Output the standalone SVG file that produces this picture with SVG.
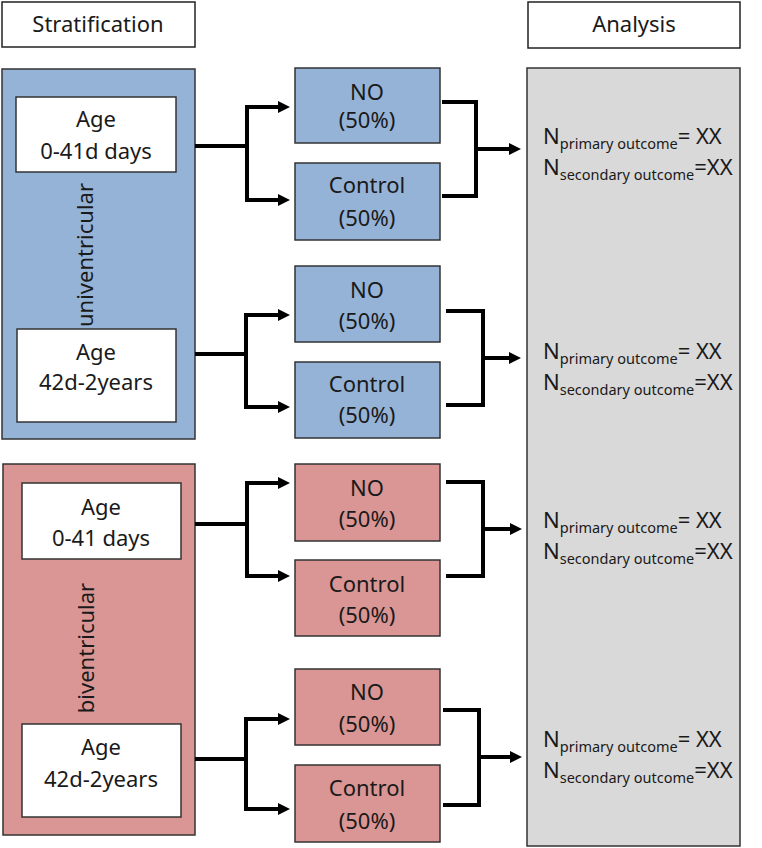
<svg xmlns="http://www.w3.org/2000/svg" width="762" height="848" viewBox="0 0 762 848">
<defs>
<style>
text{font-family:"Noto Sans","Open Sans","DejaVu Sans",sans-serif;font-size:22px;fill:#1a1a1a}
.c{text-anchor:middle}
.hdr{fill:#fff;stroke:#222;stroke-width:1.5}
.blue{fill:#95B3D7;stroke:#333;stroke-width:1.5}
.red{fill:#D99694;stroke:#333;stroke-width:1.5}
.gray{fill:#D9D9D9;stroke:#333;stroke-width:1.5}
.wb{fill:#fff;stroke:#333;stroke-width:1.5}
.sub{font-size:14.5px}
#connectors path{fill:none;stroke:#000;stroke-width:4;stroke-linejoin:miter}
</style>
<marker id="ah" viewBox="0 0 12 12" refX="4" refY="6" markerWidth="12" markerHeight="12" markerUnits="userSpaceOnUse" orient="auto-start-reverse">
<path d="M0,0 L12,6 L0,12 z" fill="#000"/>
</marker>
</defs>
<rect width="762" height="848" fill="#fff"/>

<g id="header-stratification"><rect class="hdr" x="2" y="2" width="193" height="45"/><text class="c" x="98" y="32">Stratification</text></g>
<g id="header-analysis"><rect class="hdr" x="528" y="2" width="212" height="46"/><text class="c" x="634" y="32">Analysis</text></g>

<g id="analysis"><rect class="gray" x="527" y="68" width="213" height="778"/>
<text x="543" y="144">N<tspan class="sub" dy="5">primary outcome</tspan><tspan dy="-5">= XX</tspan></text>
<text x="543" y="175">N<tspan class="sub" dy="5">secondary outcome</tspan><tspan dy="-5">=XX</tspan></text>
<text x="543" y="359">N<tspan class="sub" dy="5">primary outcome</tspan><tspan dy="-5">= XX</tspan></text>
<text x="543" y="390">N<tspan class="sub" dy="5">secondary outcome</tspan><tspan dy="-5">=XX</tspan></text>
<text x="543" y="528">N<tspan class="sub" dy="5">primary outcome</tspan><tspan dy="-5">= XX</tspan></text>
<text x="543" y="559">N<tspan class="sub" dy="5">secondary outcome</tspan><tspan dy="-5">=XX</tspan></text>
<text x="543" y="747">N<tspan class="sub" dy="5">primary outcome</tspan><tspan dy="-5">= XX</tspan></text>
<text x="543" y="778">N<tspan class="sub" dy="5">secondary outcome</tspan><tspan dy="-5">=XX</tspan></text>
</g>

<g id="univentricular"><rect class="blue" x="2" y="69" width="193" height="370"/>
<text class="c" transform="translate(93,255) rotate(-90)">univentricular</text></g>
<g id="biventricular"><rect class="red" x="3" y="464" width="192" height="371"/>
<text class="c" transform="translate(94,648) rotate(-90)">biventricular</text></g>

<g id="age-uni-1"><rect class="wb" x="16" y="97" width="160" height="75"/><text class="c" x="96" y="127">Age</text><text class="c" x="96" y="159">0-41d days</text></g>
<g id="age-uni-2"><rect class="wb" x="17" y="329" width="159" height="93"/><text class="c" x="96" y="360">Age</text><text class="c" x="96" y="390">42d-2years</text></g>
<g id="age-bi-1"><rect class="wb" x="22" y="483" width="159" height="76"/><text class="c" x="101" y="515">Age</text><text class="c" x="101" y="546">0-41 days</text></g>
<g id="age-bi-2"><rect class="wb" x="22" y="724" width="159" height="93"/><text class="c" x="101" y="755">Age</text><text class="c" x="101" y="787">42d-2years</text></g>

<g id="no-1"><rect class="blue" x="295" y="68" width="145" height="75"/><text class="c" x="367" y="100">NO</text><text class="c" x="367" y="128">(50%)</text></g>
<g id="control-1"><rect class="blue" x="295" y="163" width="145" height="77"/><text class="c" x="367" y="193">Control</text><text class="c" x="367" y="226">(50%)</text></g>
<g id="no-2"><rect class="blue" x="295" y="266" width="145" height="76"/><text class="c" x="367" y="298">NO</text><text class="c" x="367" y="329">(50%)</text></g>
<g id="control-2"><rect class="blue" x="295" y="362" width="145" height="76"/><text class="c" x="367" y="392">Control</text><text class="c" x="367" y="423">(50%)</text></g>
<g id="no-3"><rect class="red" x="295" y="464" width="145" height="77"/><text class="c" x="367" y="496">NO</text><text class="c" x="367" y="527">(50%)</text></g>
<g id="control-3"><rect class="red" x="295" y="560" width="145" height="76"/><text class="c" x="367" y="592">Control</text><text class="c" x="367" y="623">(50%)</text></g>
<g id="no-4"><rect class="red" x="295" y="669" width="145" height="76"/><text class="c" x="367" y="700">NO</text><text class="c" x="367" y="732">(50%)</text></g>
<g id="control-4"><rect class="red" x="295" y="765" width="145" height="77"/><text class="c" x="367" y="796">Control</text><text class="c" x="367" y="829">(50%)</text></g>

<g id="connectors">
<path d="M195,146 H247"/>
<path d="M282,107 H247 V200 H282" marker-start="url(#ah)" marker-end="url(#ah)"/>
<path d="M442,102 H476 V196 H442"/>
<path d="M476,149 H513" marker-end="url(#ah)"/>
<path d="M195,354 H246"/>
<path d="M282,315 H246 V407 H282" marker-start="url(#ah)" marker-end="url(#ah)"/>
<path d="M446,311 H483 V405 H446"/>
<path d="M483,358 H513" marker-end="url(#ah)"/>
<path d="M195,524 H247"/>
<path d="M282,483 H247 V576 H282" marker-start="url(#ah)" marker-end="url(#ah)"/>
<path d="M446,482 H483 V576 H446"/>
<path d="M483,529 H514" marker-end="url(#ah)"/>
<path d="M195,759 H246"/>
<path d="M282,719 H246 V809 H282" marker-start="url(#ah)" marker-end="url(#ah)"/>
<path d="M443,710 H479 V805 H443"/>
<path d="M479,757 H514" marker-end="url(#ah)"/>
</g>
</svg>
